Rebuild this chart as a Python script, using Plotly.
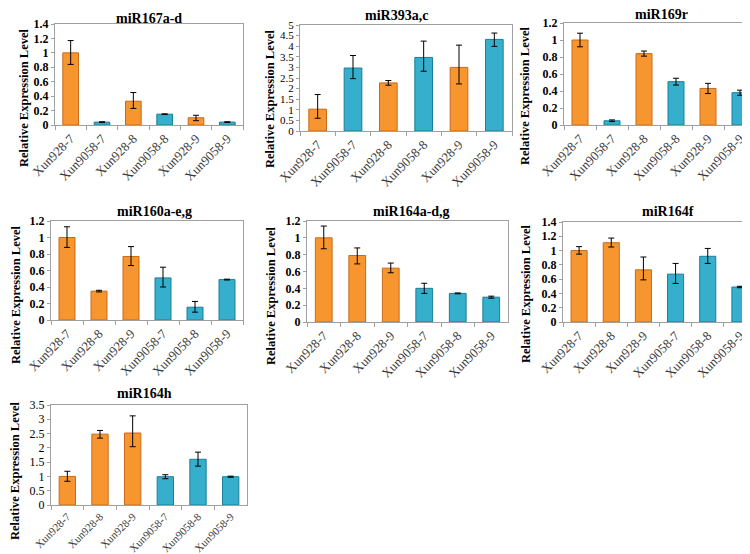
import plotly.graph_objects as go

W, H = 750, 554

# ---- data ----
cats_a = ["Xun928-7", "Xun9058-7", "Xun928-8", "Xun9058-8", "Xun928-9", "Xun9058-9"]
cats_b = ["Xun928-7", "Xun928-8", "Xun928-9", "Xun9058-7", "Xun9058-8", "Xun9058-9"]

titles = ["miR167a-d", "miR393a,c", "miR169r", "miR160a-e,g", "miR164a-d,g", "miR164f", "miR164h"]

p1_vals = [1.0, 0.04, 0.33, 0.15, 0.10, 0.04]
p1_up = [0.17, 0.005, 0.12, 0.005, 0.035, 0.005]
p1_dn = [0.16, 0.005, 0.10, 0.005, 0.04, 0.005]

p2_vals = [1.03, 2.97, 2.27, 3.47, 3.0, 4.32]
p2_up = [0.69, 0.59, 0.11, 0.77, 1.05, 0.30]
p2_dn = [0.43, 0.50, 0.11, 0.65, 0.78, 0.33]

p3_vals = [1.0, 0.05, 0.84, 0.51, 0.43, 0.38]
p3_up = [0.08, 0.01, 0.03, 0.04, 0.06, 0.03]
p3_dn = [0.08, 0.01, 0.03, 0.04, 0.06, 0.03]

p4_vals = [1.0, 0.35, 0.77, 0.51, 0.155, 0.49]
p4_up = [0.13, 0.01, 0.12, 0.13, 0.07, 0.005]
p4_dn = [0.12, 0.01, 0.11, 0.11, 0.06, 0.005]

p5_vals = [1.0, 0.79, 0.64, 0.40, 0.34, 0.295]
p5_up = [0.14, 0.09, 0.06, 0.06, 0.005, 0.012]
p5_dn = [0.13, 0.10, 0.055, 0.06, 0.005, 0.012]

p6_vals = [1.0, 1.11, 0.73, 0.67, 0.92, 0.49]
p6_up = [0.055, 0.065, 0.18, 0.15, 0.11, 0.01]
p6_dn = [0.05, 0.06, 0.14, 0.13, 0.10, 0.01]

p7_vals = [1.0, 2.48, 2.52, 0.99, 1.60, 0.99]
p7_up = [0.18, 0.13, 0.60, 0.07, 0.25, 0.02]
p7_dn = [0.17, 0.14, 0.48, 0.07, 0.24, 0.02]

y_max = [1.4, 5, 1.2, 1.2, 1.2, 1.4, 3.5]
y_step = [0.2, 0.5, 0.2, 0.2, 0.2, 0.2, 0.5]

panels = [
    (cats_a, p1_vals, p1_up, p1_dn),
    (cats_a, p2_vals, p2_up, p2_dn),
    (cats_a, p3_vals, p3_up, p3_dn),
    (cats_b, p4_vals, p4_up, p4_dn),
    (cats_b, p5_vals, p5_up, p5_dn),
    (cats_b, p6_vals, p6_up, p6_dn),
    (cats_b, p7_vals, p7_up, p7_dn),
]

# ---- layout geometry (pixels) ----
boxes = [  # x0, x1, ytop, ybottom
    (47, 235, 16, 117),
    (292, 504, 17, 123),
    (556, 748, 15, 117),
    (43, 235, 213, 312),
    (299, 500, 213, 314),
    (555, 748, 214, 314),
    (43, 239, 397, 497),
]
title_pos = [(141, 10), (388, 8), (653, 7), (146, 203), (403, 203), (660, 203), (136, 385)]
ytitle_pos = [(16, 90), (262, 91), (517, 88), (8, 287), (263, 288), (518, 286), (7, 463)]
ytick_weight = ["bold", "normal", "bold", "bold", "bold", "bold", "normal"]
ytick_size = [12, 11, 12, 12, 12, 12, 12]
xtick_size = [13, 13, 13, 13, 13, 13, 11]

ORANGE = "#F7962F"
ORANGE_LINE = "#C86A1C"
BLUE = "#35AFCC"
BLUE_LINE = "#1C7E98"
SERIF = "Liberation Serif"

fig = go.Figure()
annotations = []
for i, (cats, vals, up, dn) in enumerate(panels):
    n = i + 1
    xa = "x" if n == 1 else f"x{n}"
    ya = "y" if n == 1 else f"y{n}"
    colors = [ORANGE if "928-" in c else BLUE for c in cats]
    lines = [ORANGE_LINE if "928-" in c else BLUE_LINE for c in cats]
    fig.add_trace(go.Bar(
        x=cats, y=vals, xaxis=xa, yaxis=ya,
        marker=dict(color=colors, line=dict(color=lines, width=1)),
        error_y=dict(type="data", symmetric=False, array=up, arrayminus=dn,
                     color="black", thickness=1, width=3),
        showlegend=False,
    ))
    x0, x1, yt, yb = boxes[i]
    ticks = []
    v = 0.0
    while v <= y_max[i] + 1e-9:
        ticks.append(round(v, 2))
        v += y_step[i]
    fig.layout[f"xaxis{'' if n == 1 else n}"] = dict(
        domain=[x0 / W, x1 / W], anchor=ya, type="category", automargin=False,
        showline=True, linecolor="#A0A0A0", linewidth=1, mirror=True,
        ticks="outside", tickson="boundaries", ticklen=4, tickcolor="#A0A0A0",
        tickangle=-45, tickfont=dict(family=SERIF, size=xtick_size[i], color="#3A3A3A"),
        showgrid=False, zeroline=False, fixedrange=True,
    )
    fig.layout[f"yaxis{'' if n == 1 else n}"] = dict(
        domain=[1 - yb / H, 1 - yt / H], anchor=xa, automargin=False,
        range=[0, y_max[i]], tickvals=ticks, ticktext=[f"{t:g}" for t in ticks],
        showline=True, linecolor="#A0A0A0", linewidth=1, mirror=True,
        ticks="outside", ticklen=3, tickcolor="#A0A0A0",
        tickfont=dict(family=SERIF, size=ytick_size[i], color="black",
                      weight=ytick_weight[i]),
        showgrid=False, zeroline=False, fixedrange=True,
    )
    tx, ty = title_pos[i]
    annotations.append(dict(
        text=titles[i], x=tx / W, y=1 - ty / H, xref="paper", yref="paper",
        showarrow=False, xanchor="center", yanchor="middle",
        font=dict(family=SERIF, size=14, color="black", weight="bold"),
    ))
    ax, ay = ytitle_pos[i]
    annotations.append(dict(
        text="Relative Expression Level", x=ax / W, y=1 - ay / H,
        xref="paper", yref="paper", showarrow=False, textangle=-90,
        xanchor="center", yanchor="middle",
        font=dict(family=SERIF, size=12.5, color="black", weight="bold"),
    ))

fig.update_layout(
    width=W, height=H, margin=dict(l=0, r=0, t=0, b=0, autoexpand=False),
    paper_bgcolor="white", plot_bgcolor="white",
    bargap=0.5, annotations=annotations,
)

fig.write_html("out.html")
